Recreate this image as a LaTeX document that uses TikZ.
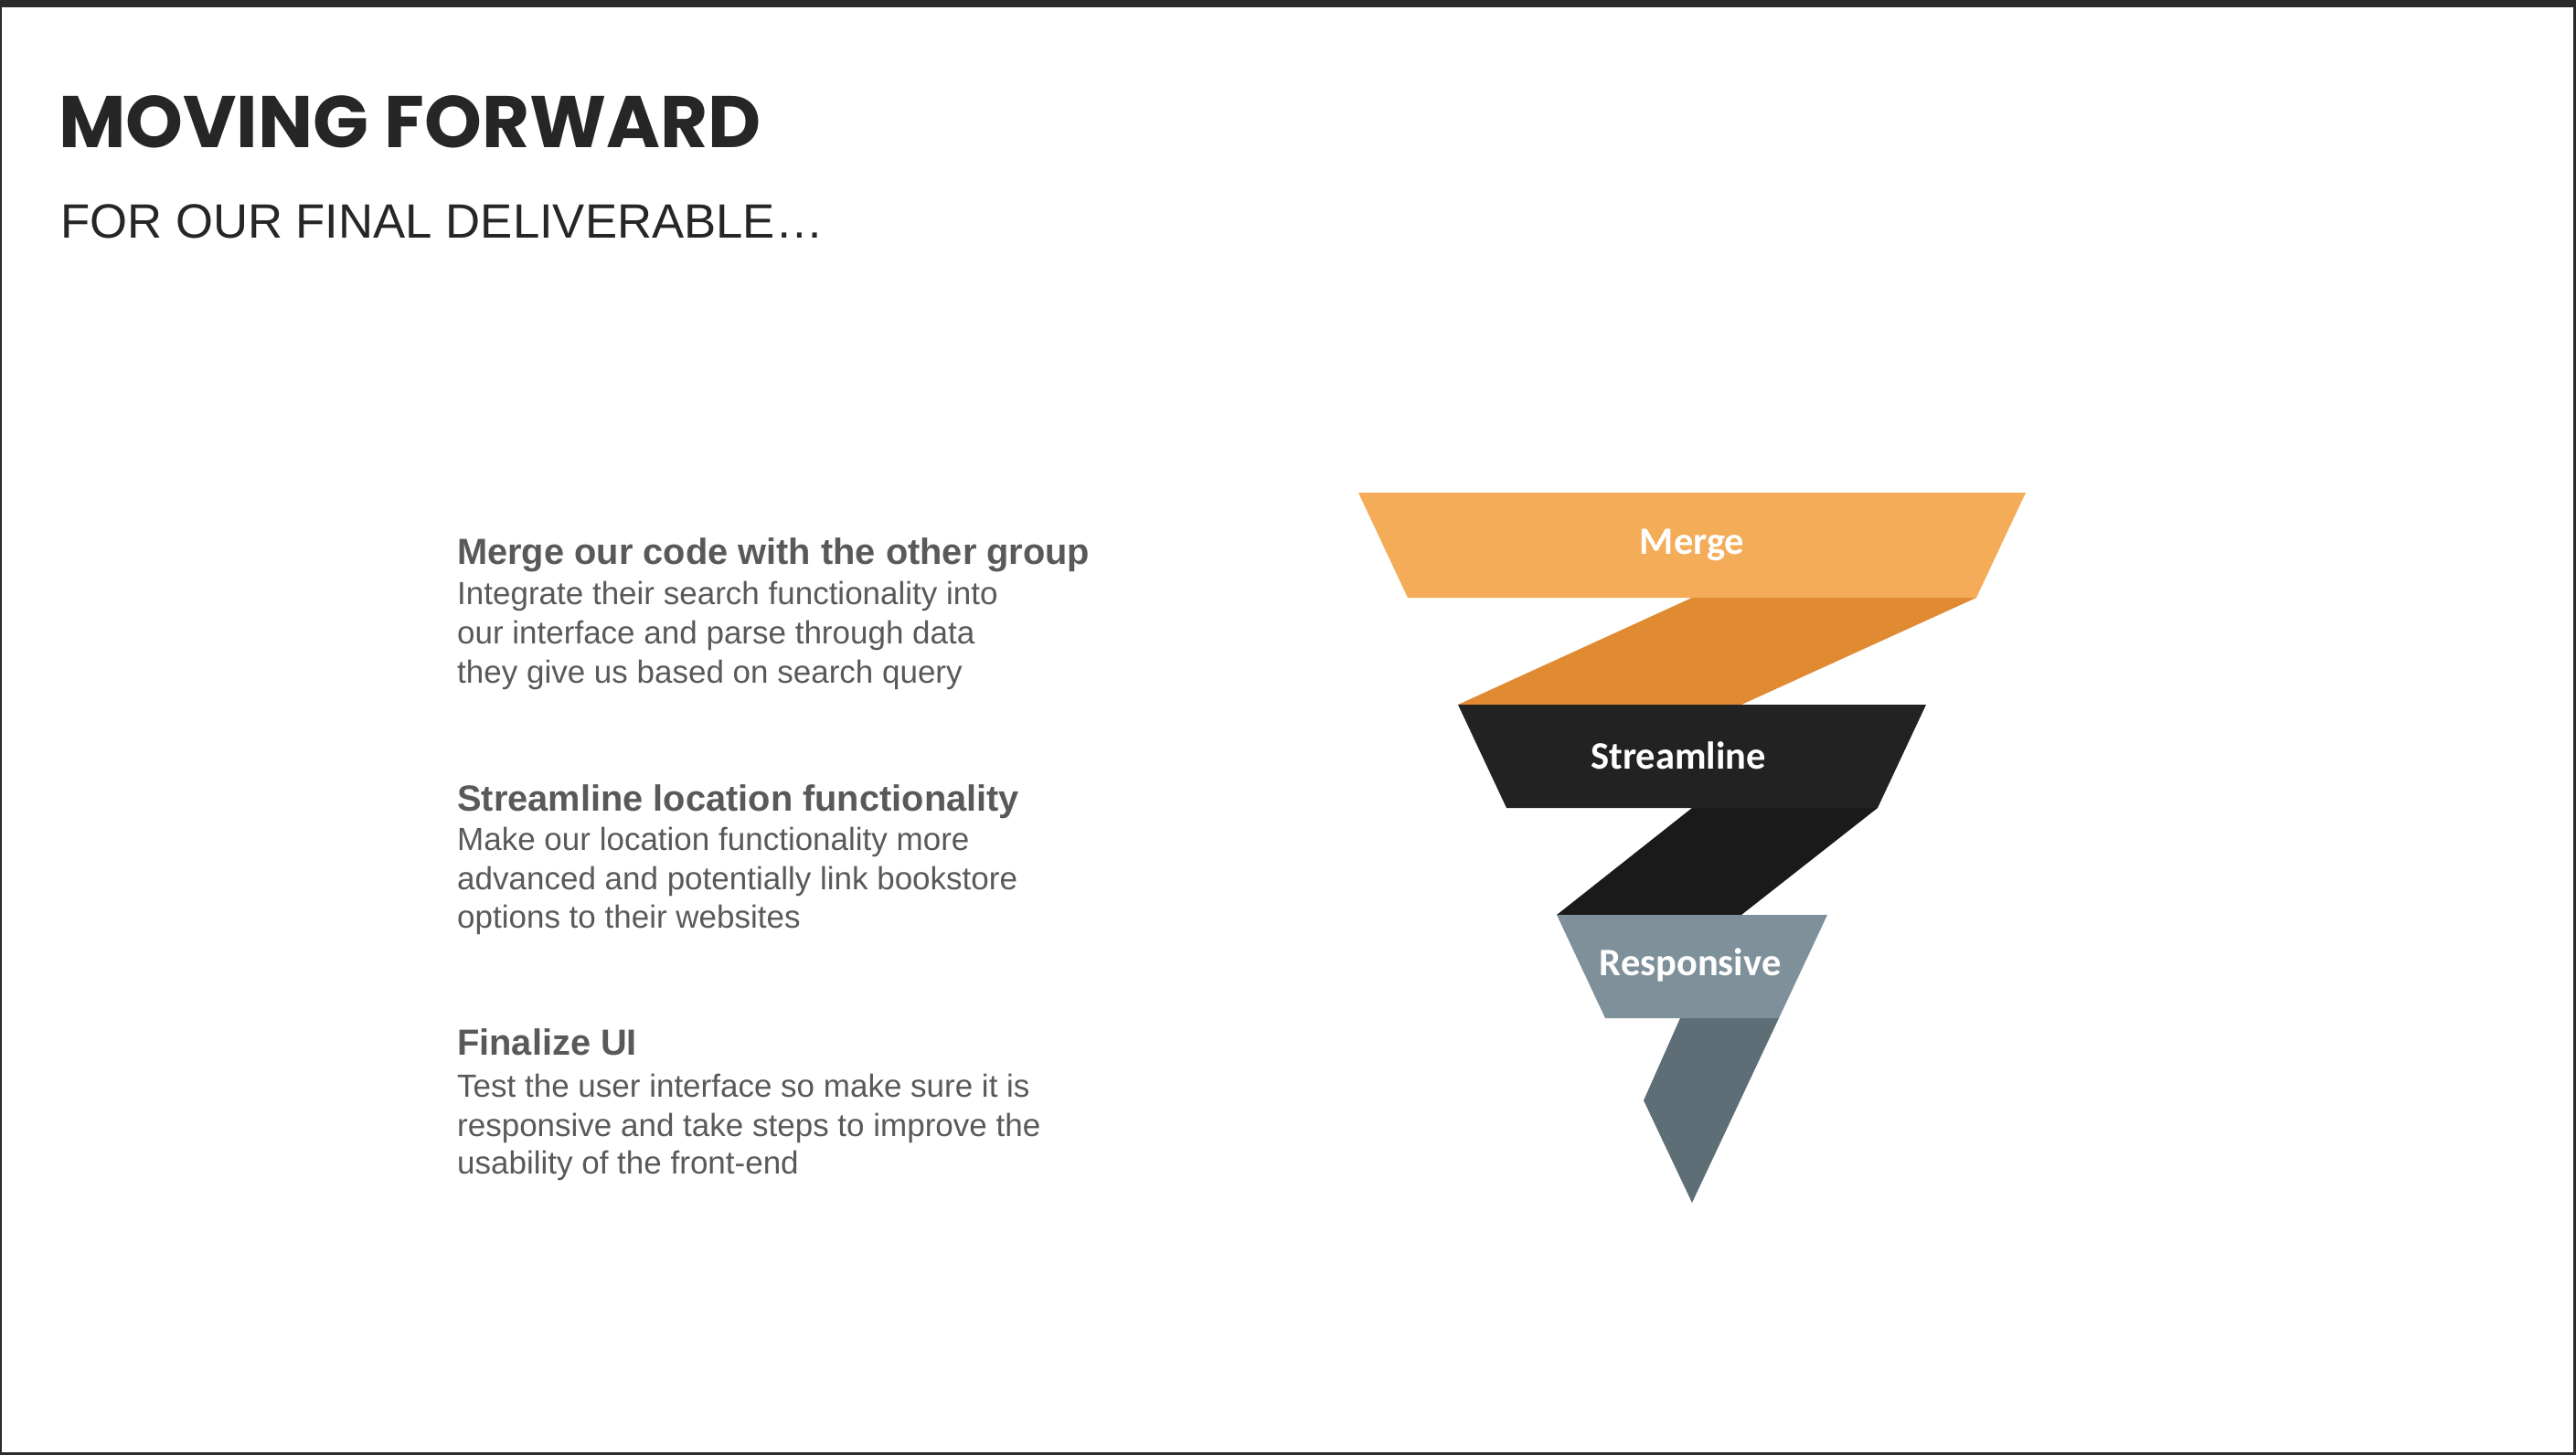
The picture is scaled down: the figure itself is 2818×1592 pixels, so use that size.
\documentclass[tikz,border=0pt]{standalone}
\usepackage{fontspec}
\setmainfont{Liberation Sans}
\newfontfamily\titlefont{Poppins}
\newfontfamily\labelfont{Carlito}
\definecolor{frame}{HTML}{2B2B2D}
\definecolor{titlegrey}{HTML}{262626}
\definecolor{textgrey}{HTML}{595959}
\definecolor{mergeband}{HTML}{F4AC58}
\definecolor{mergelink}{HTML}{E08A32}
\definecolor{streamband}{HTML}{222222}
\definecolor{streamlink}{HTML}{1A1A1A}
\definecolor{respband}{HTML}{7E909A}
\definecolor{resptail}{HTML}{5E6E76}
\tikzset{
  heading/.style={anchor=base west, inner sep=0pt, text=textgrey,
    font=\bfseries\fontsize{39.8}{48}\selectfont},
  bodyline/.style={anchor=base west, inner sep=0pt, text=textgrey,
    font=\fontsize{35}{43}\selectfont},
  bandlabel/.style={inner sep=0pt, text=white,
    font=\labelfont\bfseries\fontsize{42.5}{50}\selectfont}
}
\begin{document}
\begin{tikzpicture}[x=1pt,y=-1pt]
\useasboundingbox (0,0) rectangle (2818,1592);
\fill[white] (0,0) rectangle (2818,1592);

% slide frame
\fill[frame] (0,0) rectangle (2818,8);
\fill[frame] (0,0) rectangle (2,1592);
\fill[frame] (2815,0) rectangle (2818,1592);
\fill[frame] (0,1589) rectangle (2818,1592);

% title block
\node[anchor=base west, inner sep=0pt, text=titlegrey,
      font=\titlefont\bfseries\fontsize{80}{96}\selectfont] (title) at (64,161) {MOVING FORWARD};
\node[anchor=base west, inner sep=0pt, text=titlegrey,
      font=\fontsize{52.7}{64}\selectfont] (subtitle) at (66,260) {FOR OUR FINAL DELIVERABLE…};

% left-hand descriptions
\node[heading] (h1) at (500,617) {Merge our code with the other group};
\node[bodyline] (b1a) at (500,661) {Integrate their search functionality into};
\node[bodyline] (b1b) at (500,704) {our interface and parse through data};
\node[bodyline] (b1c) at (500,747) {they give us based on search query};

\node[heading] (h2) at (500,887) {Streamline location functionality};
\node[bodyline] (b2a) at (500,930) {Make our location functionality more};
\node[bodyline] (b2b) at (500,973) {advanced and potentially link bookstore};
\node[bodyline] (b2c) at (500,1015) {options to their websites};

\node[heading] (h3) at (500,1154) {Finalize UI};
\node[bodyline] (b3a) at (500,1200) {Test the user interface so make sure it is};
\node[bodyline] (b3b) at (500,1243) {responsive and take steps to improve the};
\node[bodyline] (b3c) at (500,1284) {usability of the front-end};

% folded funnel: links first, bands on top
\fill[mergelink]  (1851,654) -- (2162,654) -- (1905,771) -- (1595,771) -- cycle;
\fill[streamlink] (1851,884) -- (2054,884) -- (1905,1001) -- (1703,1001) -- cycle;
\fill[resptail]   (1838,1114) -- (1946,1114) -- (1851,1316) -- (1798,1204) -- cycle;

\fill[mergeband]  (1486,539) -- (2216,539) -- (2162,654) -- (1540,654) -- cycle;
\fill[streamband] (1595,771) -- (2107,771) -- (2054,884) -- (1648,884) -- cycle;
\fill[respband]   (1703,1001) -- (1999,1001) -- (1946,1114) -- (1756,1114) -- cycle;

\node[bandlabel] (merge) at (1851,596) {Merge};
\node[bandlabel] (stream) at (1836,827) {Streamline};
\node[bandlabel] (resp) at (1849,1056) {Responsive};
\end{tikzpicture}
\end{document}
